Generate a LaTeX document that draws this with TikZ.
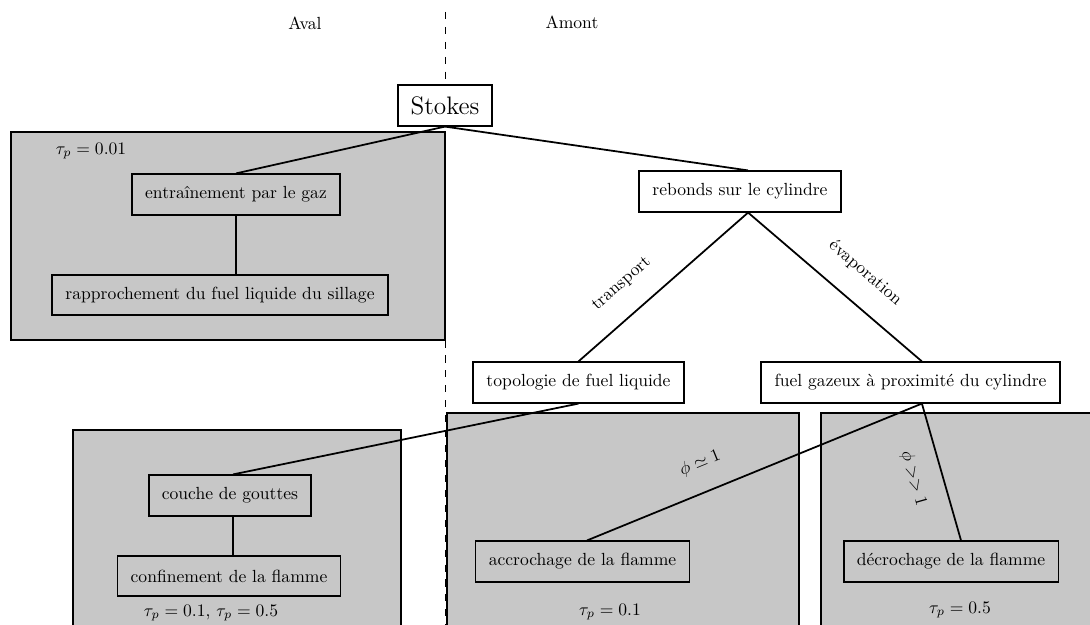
\documentclass[tikz,border=0pt]{standalone}
\usepackage{tikz}
\usetikzlibrary{calc}

\begin{document}
\begin{tikzpicture}[
        x=0.02cm, y=-0.02cm,
        etape/.style={rectangle, draw, line width=1pt, minimum height=23pt, inner xsep=7.5pt, align=center},
        zone/.style={draw, line width=1pt, fill=black!22},
        lien/.style={line width=1pt},
        frontiere/.style={line width=1pt, dash pattern=on 4pt off 4.5pt},
        note/.style={inner sep=2pt}
    ]
        \clip (0,0) rectangle (1090,625);

        % Zones
        \draw[zone] (11,132) rectangle (445,340);
        \draw[zone] (73,430) rectangle (401,640);
        \draw[zone] (447,413) rectangle (799,640);
        \draw[zone] (821,413) rectangle (1100,640);
        \draw[frontiere] (445.5,12) -- (445.5,630);

        % Nodes
        \node (aval) at (305,23) {Aval};
        \node (amont) at (572,22) {Amont};
        \node[etape, fill=white, font=\Large, inner xsep=7pt] (stokes) at (445,105.5) {Stokes};
        \node[etape] (entrainement) at (236,194.5) {entraînement par le gaz};
        \node[etape] (rapprochement) at (220,295) {rapprochement du fuel liquide du sillage};
        \node[etape, fill=white] (rebonds) at (740,191.5) {rebonds sur le cylindre};
        \node[etape, fill=white] (topologie) at (578.5,382.5) {topologie de fuel liquide};
        \node[etape, fill=white] (fuelgaz) at (910.5,382.5) {fuel gazeux à proximité du cylindre};
        \node[etape] (couche) at (230,495.5) {couche de gouttes};
        \node[etape] (confinement) at (229,576) {confinement de la flamme};
        \node[etape] (accrochage) at (582.5,561.5) {accrochage de la flamme};
        \node[etape] (decrochage) at (951,561.5) {décrochage de la flamme};
        \node[note] (tauA) at (91,151) {$\tau_p = 0.01$};
        \node[note] (tauB) at (211,613) {$\tau_p = 0.1$, $\tau_p = 0.5$};
        \node[note] (tauC) at (610,612) {$\tau_p = 0.1$};
        \node[note] (tauD) at (960,610) {$\tau_p = 0.5$};

        % Paths
        \draw[lien] (stokes.south) -- (entrainement.north);
        \draw[lien] (stokes.south) -- ([xshift=4.6pt]rebonds.north);
        \draw[lien] (entrainement.south) -- (entrainement.south |- rapprochement.north);
        \draw[lien] ([xshift=4.6pt]rebonds.south) -- (topologie.north) node[pos=0.63, sloped, above=9pt] {transport};
        \draw[lien] ([xshift=4.6pt]rebonds.south) -- ([xshift=6.5pt]fuelgaz.north) node[pos=0.56, sloped, above=9pt] {évaporation};
        \draw[lien] (topologie.south) -- ([xshift=1.7pt]couche.north);
        \draw[lien] ([xshift=1.7pt]couche.south) -- ([xshift=1.7pt]couche.south |- confinement.north);
        \draw[lien] ([xshift=6.5pt]fuelgaz.south) -- ([xshift=2.6pt]accrochage.north) node[pos=0.63, sloped, above=8pt] {$\phi \simeq 1$};
        \draw[lien] ([xshift=6.5pt]fuelgaz.south) -- ([xshift=5.7pt]decrochage.north) node[pos=0.49, sloped, below=8pt] {$\phi >> 1$};

    \end{tikzpicture}
\end{document}
